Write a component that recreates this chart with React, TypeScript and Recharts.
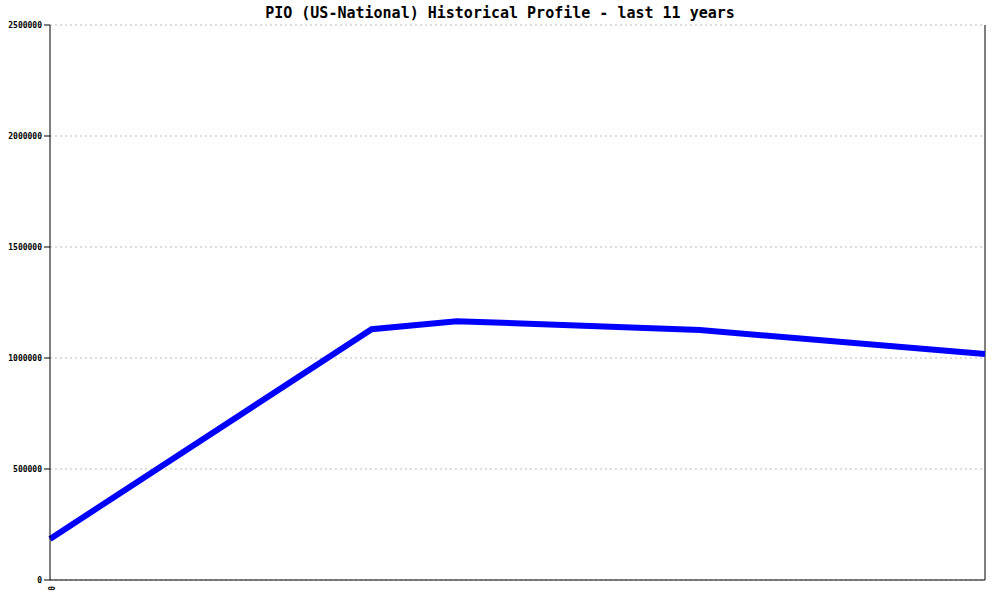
import { CartesianGrid, Line, LineChart, ReferenceLine, XAxis, YAxis } from "recharts";

// x position as share of the time span (0..100), value = count
const positions = [0, 34.4, 43.5, 69.5, 100];
const values = [185000, 1130000, 1166000, 1126000, 1018000];
const yTicks = [0, 500000, 1000000, 1500000, 2000000, 2500000];
const xTicks = [0];
const title = "PIO (US-National) Historical Profile - last 11 years";

const data = positions.map((x, i) => ({ x, value: values[i] }));

const MONO = "'DejaVu Sans Mono', 'Liberation Mono', monospace";

const XTick = (props: any) => {
  const { x, y, payload } = props;
  return (
    <text
      x={x}
      y={y + 4}
      transform={`rotate(90, ${x}, ${y + 4})`}
      textAnchor="start"
      dominantBaseline="middle"
      fontFamily={MONO}
      fontSize={8}
      fontWeight="bold"
      fill="#000"
    >
      {payload.value}
    </text>
  );
};

export default function App() {
  return (
    <div style={{ position: "absolute", left: 0, top: 0, width: 1000, height: 600, background: "#fff" }}>
      <div
        style={{
          position: "absolute",
          top: 4,
          left: 0,
          width: 1000,
          textAlign: "center",
          fontFamily: MONO,
          fontSize: 15,
          lineHeight: "18px",
          fontWeight: "bold",
          color: "#000",
        }}
      >
        {title}
      </div>
      <LineChart width={1000} height={600} data={data} margin={{ top: 25, right: 15, left: 0, bottom: 0 }}>
        <CartesianGrid horizontal vertical={false} stroke="#bbb" strokeDasharray="2 3" />
        <XAxis
          dataKey="x"
          type="number"
          domain={[0, 100]}
          ticks={xTicks}
          height={20}
          axisLine={{ stroke: "#000" }}
          tickLine={{ stroke: "#000" }}
          tickSize={0}
          tick={<XTick />}
        />
        <YAxis
          type="number"
          domain={[0, 2500000]}
          ticks={yTicks}
          width={50}
          axisLine={{ stroke: "#000" }}
          tickLine={{ stroke: "#000" }}
          tickSize={6}
          tick={{ fontFamily: MONO, fontSize: 8, fontWeight: "bold", fill: "#000" }}
        />
        <ReferenceLine x={100} stroke="#000" />
        <Line
          dataKey="value"
          stroke="#0000ff"
          strokeWidth={6}
          dot={false}
          type="linear"
          isAnimationActive={false}
        />
      </LineChart>
    </div>
  );
}
